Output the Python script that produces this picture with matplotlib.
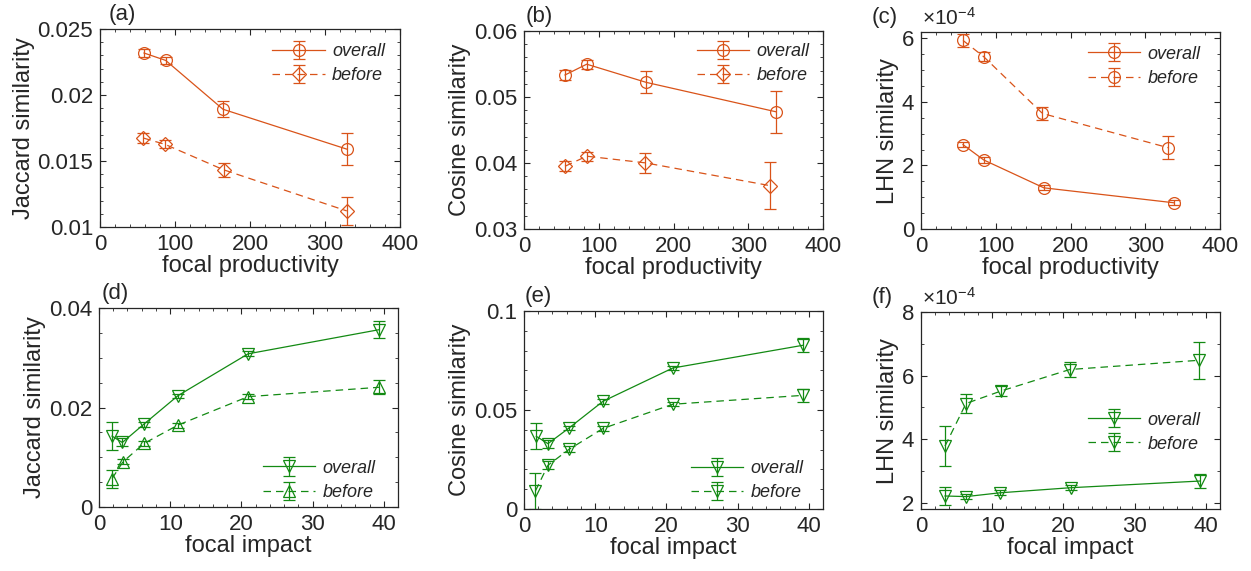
import numpy as np
import matplotlib as mpl
mpl.use('Agg')
import matplotlib.pyplot as plt
from matplotlib.ticker import MultipleLocator, FuncFormatter

# MATLAB-like look
mpl.rcParams['font.family'] = ['Liberation Sans', 'DejaVu Sans']
mpl.rcParams['text.color'] = '#262626'
mpl.rcParams['axes.labelcolor'] = '#262626'
mpl.rcParams['xtick.color'] = '#262626'
mpl.rcParams['ytick.color'] = '#262626'
mpl.rcParams['mathtext.default'] = 'regular'

ORANGE = '#d95319'
GREEN = '#138a13'

# (a) Jaccard vs focal productivity
a_x_all = [58.7, 87.6, 164, 329]
a_y_all = [0.02318, 0.02262, 0.01892, 0.01590]
a_e_all = [0.00033, 0.00024, 0.00062, 0.0012]
a_x_bef = [57.8, 86.7, 165, 329]
a_y_bef = [0.01674, 0.01626, 0.01433, 0.01122]
a_e_bef = [0.00035, 0.0003, 0.00054, 0.00105]

# (b) Cosine vs focal productivity
b_x_all = [54.9, 83.9, 163.4, 337.5]
b_y_all = [0.05334, 0.05497, 0.05222, 0.04775]
b_e_all = [0.00076, 0.00066, 0.00165, 0.0032]
b_x_bef = [54.9, 83.9, 162.5, 329.5]
b_y_bef = [0.03951, 0.04103, 0.04002, 0.03656]
b_e_bef = [0.00076, 0.0007, 0.0015, 0.0036]

# (c) LHN vs focal productivity (x1e-4)
c_x_all = [56.2, 83.9, 164.3, 338.4]
c_y_all = [2.654, 2.173, 1.296, 0.825]
c_e_all = [0.08, 0.09, 0.08, 0.08]
c_x_bef = [56.2, 83.9, 162.5, 330.4]
c_y_bef = [5.935, 5.423, 3.636, 2.56]
c_e_bef = [0.21, 0.15, 0.21, 0.37]

# (d) Jaccard vs focal impact
d_x_all = [1.83, 3.28, 6.32, 11.1, 20.94, 39.3]
d_y_all = [0.01425, 0.01297, 0.01667, 0.02239, 0.03079, 0.03563]
d_e_all = [0.0028, 0.0008, 0.0005, 0.0004, 0.0005, 0.0017]
d_x_bef = [1.83, 3.37, 6.32, 11.1, 20.94, 39.4]
d_y_bef = [0.00571, 0.00908, 0.01277, 0.01647, 0.02218, 0.02407]
d_e_bef = [0.0018, 0.0005, 0.0005, 0.0005, 0.0005, 0.0014]

# (e) Cosine vs focal impact
e_x_all = [1.73, 3.37, 6.32, 11.1, 20.9, 39.2]
e_y_all = [0.0367, 0.033, 0.0409, 0.0544, 0.0712, 0.0827]
e_e_all = [0.0066, 0.002, 0.0012, 0.0012, 0.0012, 0.0036]
e_x_bef = [1.6, 3.37, 6.32, 11.1, 20.9, 39.2]
e_y_bef = [0.0091, 0.0221, 0.0301, 0.0407, 0.0529, 0.0574]
e_e_bef = [0.0093, 0.002, 0.0015, 0.0012, 0.0011, 0.0032]

# (f) LHN vs focal impact (x1e-4)
f_x_all = [3.37, 6.32, 11.1, 21.03, 39.2]
f_y_all = [2.21, 2.19, 2.31, 2.47, 2.68]
f_e_all = [0.29, 0.08, 0.08, 0.08, 0.23]
f_x_bef = [3.37, 6.32, 11.2, 20.9, 39.0]
f_y_bef = [3.78, 5.12, 5.51, 6.19, 6.48]
f_e_bef = [0.62, 0.31, 0.16, 0.24, 0.59]

series_labels = ['overall', 'before']

fig = plt.figure(figsize=(12.51, 5.71), dpi=100)
W, H = 1251.0, 571.0


def make_ax(left, top, bottom, right):
    return fig.add_axes([left / W, 1 - bottom / H, (right - left) / W, (bottom - top) / H])


def draw_panel(ax, tag, data, color, markers, ylabel, xlabel, xlim, ylim, xmaj, xmin_, ymaj, ymin_,
               leg_loc, leg_anchor, tag_x, scale=False):
    styles = ['-', '--']
    for (x, y, e), mk, ls, lab in zip(data, markers, styles, series_labels):
        ms = 7.5 if mk == 'D' else 8.5
        eb = ax.errorbar(x, y, yerr=e, fmt=mk, linestyle=ls, color=color, mfc='none', mec=color,
                         ms=ms, mew=0.9, lw=0.9, elinewidth=0.9, capsize=4, capthick=0.9, label=lab)
        if ls == '--':
            eb[0].set_dashes((6, 4))
    ax.set_xlim(*xlim)
    ax.set_ylim(*ylim)
    ax.xaxis.set_major_locator(MultipleLocator(xmaj))
    ax.xaxis.set_minor_locator(MultipleLocator(xmin_))
    ax.yaxis.set_major_locator(MultipleLocator(ymaj))
    ax.yaxis.set_minor_locator(MultipleLocator(ymin_))
    ax.yaxis.set_major_formatter(FuncFormatter(lambda v, p: '%g' % round(v, 6)))
    ax.tick_params(which='both', direction='in', top=True, right=True, labelsize=16, pad=5)
    ax.tick_params(which='major', length=4, width=0.8)
    ax.tick_params(which='minor', length=2.5, width=0.6)
    for sp in ax.spines.values():
        sp.set_color('#262626')
        sp.set_linewidth(0.9)
    ax.set_xlabel(xlabel, fontsize=17, labelpad=0)
    ax.set_ylabel(ylabel, fontsize=17, labelpad=2)
    leg = ax.legend(loc=leg_loc, bbox_to_anchor=leg_anchor, frameon=False, fontsize=13,
                    handlelength=2.9, handletextpad=0.4, labelspacing=0.4, borderpad=0,
                    borderaxespad=0)
    for t in leg.get_texts():
        t.set_fontstyle('italic')
    ax.text(tag_x, 1.02, tag, transform=ax.transAxes, fontsize=16, ha='left', va='bottom')
    if scale:
        ax.text(0.005, 1.015, r'$\times10^{-4}$', transform=ax.transAxes, fontsize=15,
                ha='left', va='bottom')


ax_a = make_ax(100, 29, 227, 400)
ax_b = make_ax(524, 31, 229, 823)
ax_c = make_ax(921, 32, 229, 1220)
ax_d = make_ax(99, 308, 507, 398)
ax_e = make_ax(524, 311, 509, 823)
ax_f = make_ax(921, 312, 509, 1220)

draw_panel(ax_a, '(a)', [(a_x_all, a_y_all, a_e_all), (a_x_bef, a_y_bef, a_e_bef)], ORANGE, ['o', 'D'],
           'Jaccard similarity', 'focal productivity', (0, 400), (0.01, 0.025), 100, 20, 0.005, 0.001,
           'upper right', (0.95, 0.93), 0.03)
draw_panel(ax_b, '(b)', [(b_x_all, b_y_all, b_e_all), (b_x_bef, b_y_bef, b_e_bef)], ORANGE, ['o', 'D'],
           'Cosine similarity', 'focal productivity', (0, 400), (0.03, 0.06), 100, 20, 0.01, 0.002,
           'upper right', (0.955, 0.94), 0.005)
draw_panel(ax_c, '(c)', [(c_x_all, c_y_all, c_e_all), (c_x_bef, c_y_bef, c_e_bef)], ORANGE, ['o', 'o'],
           'LHN similarity', 'focal productivity', (0, 400), (0, 6.2), 100, 20, 2, 0.5,
           'upper right', (0.935, 0.93), -0.164, scale=True)
draw_panel(ax_d, '(d)', [(d_x_all, d_y_all, d_e_all), (d_x_bef, d_y_bef, d_e_bef)], GREEN, ['v', '^'],
           'Jaccard similarity', 'focal impact', (0, 42), (0, 0.04), 10, 2, 0.02, 0.005,
           'lower right', (0.925, 0.03), 0.01)
draw_panel(ax_e, '(e)', [(e_x_all, e_y_all, e_e_all), (e_x_bef, e_y_bef, e_e_bef)], GREEN, ['v', 'v'],
           'Cosine similarity', 'focal impact', (0, 42), (0, 0.1), 10, 2, 0.05, 0.01,
           'lower right', (0.935, 0.04), 0.003)
draw_panel(ax_f, '(f)', [(f_x_all, f_y_all, f_e_all), (f_x_bef, f_y_bef, f_e_bef)], GREEN, ['v', 'v'],
           'LHN similarity', 'focal impact', (0, 42), (1.8, 8), 10, 2, 2, 1,
           'center right', (0.935, 0.39), -0.164, scale=True)

fig.savefig('out.png', dpi=100)
